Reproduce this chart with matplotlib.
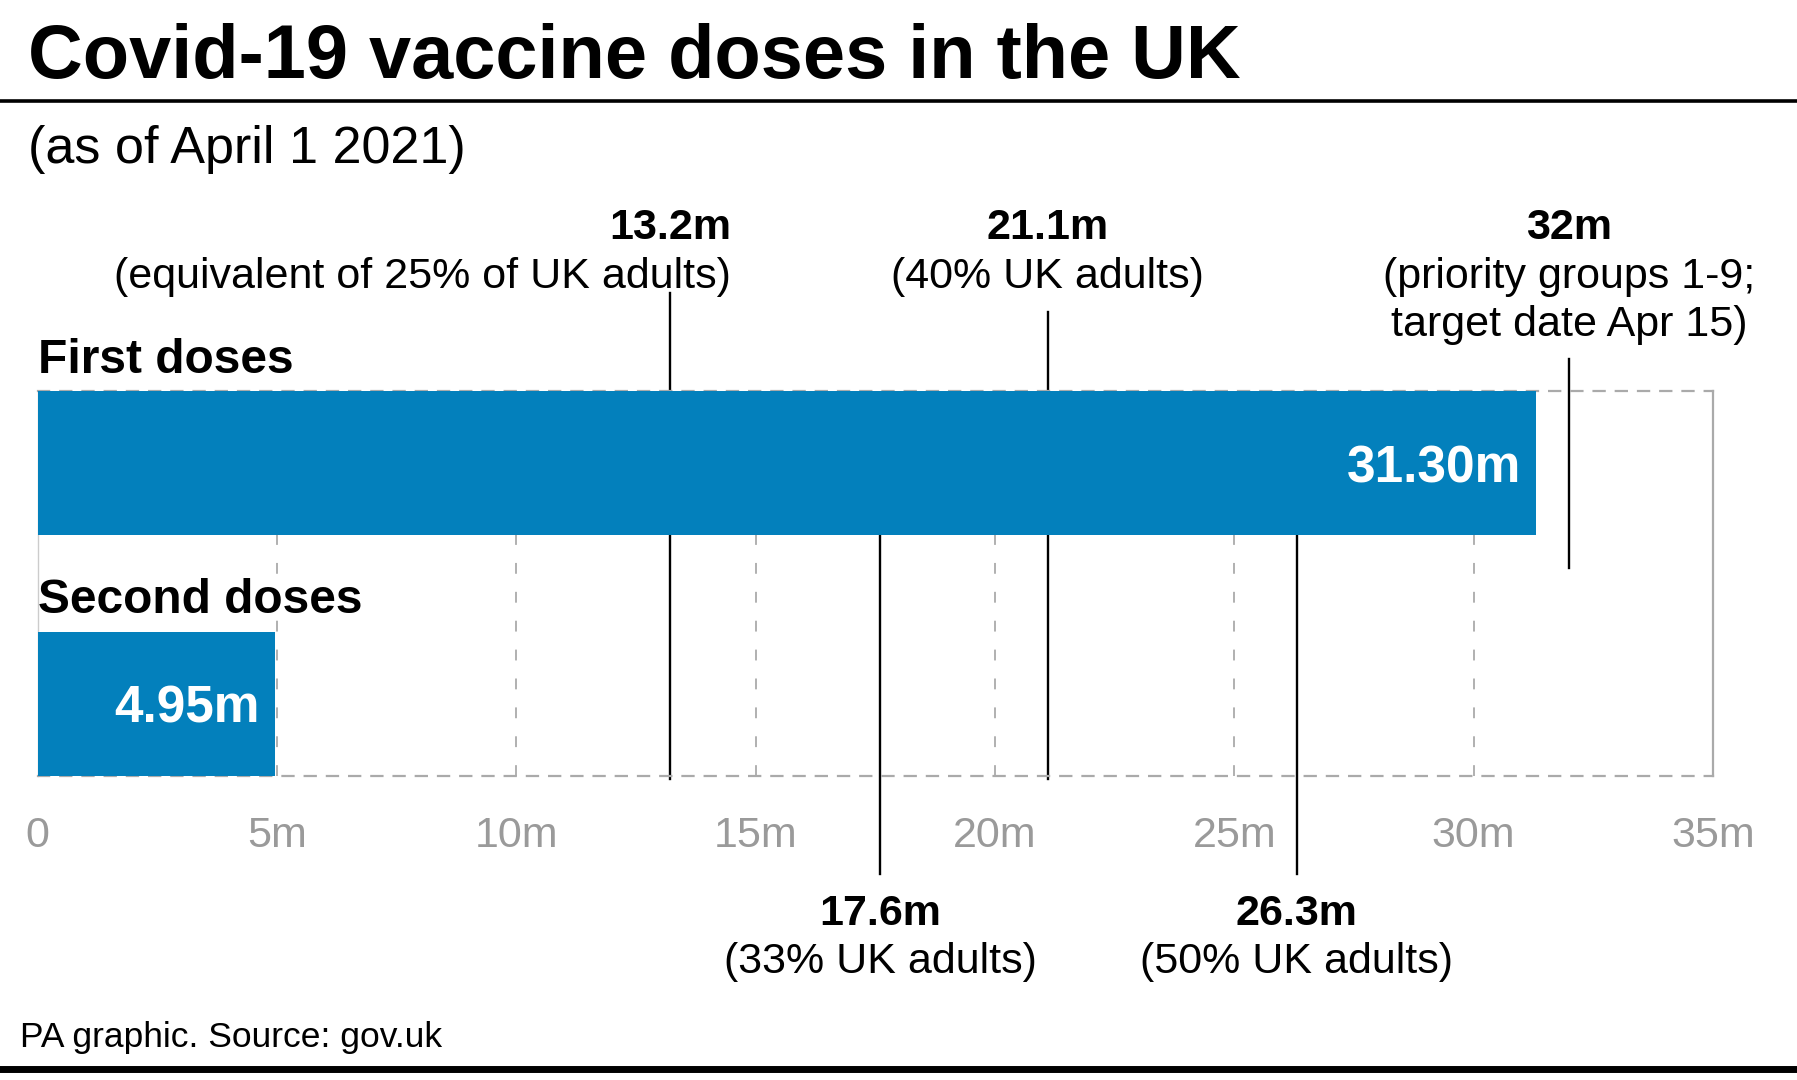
import matplotlib.pyplot as plt

plt.rcParams['font.family'] = ['Liberation Sans', 'DejaVu Sans']

# Data
categories = ["First doses", "Second doses"]
doses = [31.30, 4.95]
dose_labels = ["31.30m", "4.95m"]

tick_values = [0, 5, 10, 15, 20, 25, 30, 35]
tick_labels = ["0", "5m", "10m", "15m", "20m", "25m", "30m", "35m"]

marker_values = [13.2, 21.1, 32, 17.6, 26.3]
marker_titles = ["13.2m", "21.1m", "32m", "17.6m", "26.3m"]
marker_notes = [
    "(equivalent of 25% of UK adults)",
    "(40% UK adults)",
    "(priority groups 1-9;\ntarget date Apr 15)",
    "(33% UK adults)",
    "(50% UK adults)",
]

# Layout for each marker: (line top, line bottom, label side, label x shift)
marker_layout = [
    (-0.705, 1.314, "above", 1.28),
    (-0.629, 1.314, "above", 0.0),
    (-0.433, 0.438, "above", 0.0),
    (0.295, 1.705, "below", 0.0),
    (0.295, 1.705, "below", 0.0),
]

BLUE = "#0380bc"
GRID = "#aaaaaa"
W, H = 1797, 1080

fig = plt.figure(figsize=(W / 100, H / 100), dpi=100)

# title block
fig.text(28 / W, 1 - 78 / H, "Covid-19 vaccine doses in the UK", fontsize=54.5,
         fontweight="bold", va="baseline", ha="left")
fig.add_artist(plt.Line2D([0, 1], [1 - 100.5 / H] * 2, color="black", lw=2.6,
                          transform=fig.transFigure))
fig.text(28 / W, 1 - 163 / H, "(as of April 1 2021)", fontsize=37.5,
         va="baseline", ha="left")

# footer
fig.text(20 / W, 1 - 1047 / H, "PA graphic. Source: gov.uk", fontsize=25.5,
         va="baseline", ha="left")
fig.add_artist(plt.Line2D([0, 1], [1 - 1068.5 / H] * 2, color="black", lw=5,
                          transform=fig.transFigure))

# main axes
x0, x1 = 37.8 / W, 1713 / W
y_top, y_bot = 1 - 390.8 / H, 1 - 776 / H
ax = fig.add_axes([x0, y_bot, x1 - x0, y_top - y_bot])

pos = list(range(len(categories)))
ax.barh(pos, doses, height=0.6, color=BLUE, zorder=3)
ax.set_xlim(0, 35)
ax.set_ylim(1.3, -0.3)

ax.set_xticks(tick_values)
ax.set_xticklabels(tick_labels, fontsize=31, color="#9a9a9a")
ax.tick_params(axis="x", length=0, pad=29)
ax.set_yticks([])

ax.grid(axis="x", color=GRID, lw=1.3, linestyle=(0, (6, 10)), zorder=0)
ax.set_axisbelow(True)
for side in ["top", "bottom"]:
    ax.spines[side].set_linestyle((0, (5, 5)))
    ax.spines[side].set_color(GRID)
    ax.spines[side].set_linewidth(1.6)
ax.spines["right"].set_color(GRID)
ax.spines["right"].set_linewidth(1.6)
ax.spines["left"].set_color("#cccccc")
ax.spines["left"].set_linewidth(1.0)

# category names and values
for p, name, v, lab in zip(pos, categories, doses, dose_labels):
    ax.text(0, p - 0.376, name, fontsize=34.5, fontweight="bold",
            ha="left", va="baseline")
    ax.annotate(lab, (v, p), xytext=(-11, 0), textcoords="offset points",
                ha="right", va="center_baseline", color="white",
                fontsize=37, fontweight="bold", zorder=4)

# marker lines and labels
for v, title, note, (top, bot, side, dx) in zip(marker_values, marker_titles,
                                                marker_notes, marker_layout):
    ax.plot([v, v], [top, bot], color="black", lw=1.7, zorder=2, clip_on=False)
    ha = "right" if dx else "center"
    if side == "above":
        ax.text(v + dx, -0.929, title, fontsize=31, fontweight="bold",
                ha=ha, va="baseline")
        ax.text(v + dx, -0.729, note.split("\n")[0], fontsize=31,
                ha=ha, va="baseline")
        if "\n" in note:
            ax.text(v + dx, -0.529, note.split("\n")[1], fontsize=31,
                    ha=ha, va="baseline")
    else:
        ax.text(v + dx, 1.919, title, fontsize=31, fontweight="bold",
                ha=ha, va="baseline")
        ax.text(v + dx, 2.119, note, fontsize=31, ha=ha, va="baseline")

fig.savefig("out.png", dpi=100)
